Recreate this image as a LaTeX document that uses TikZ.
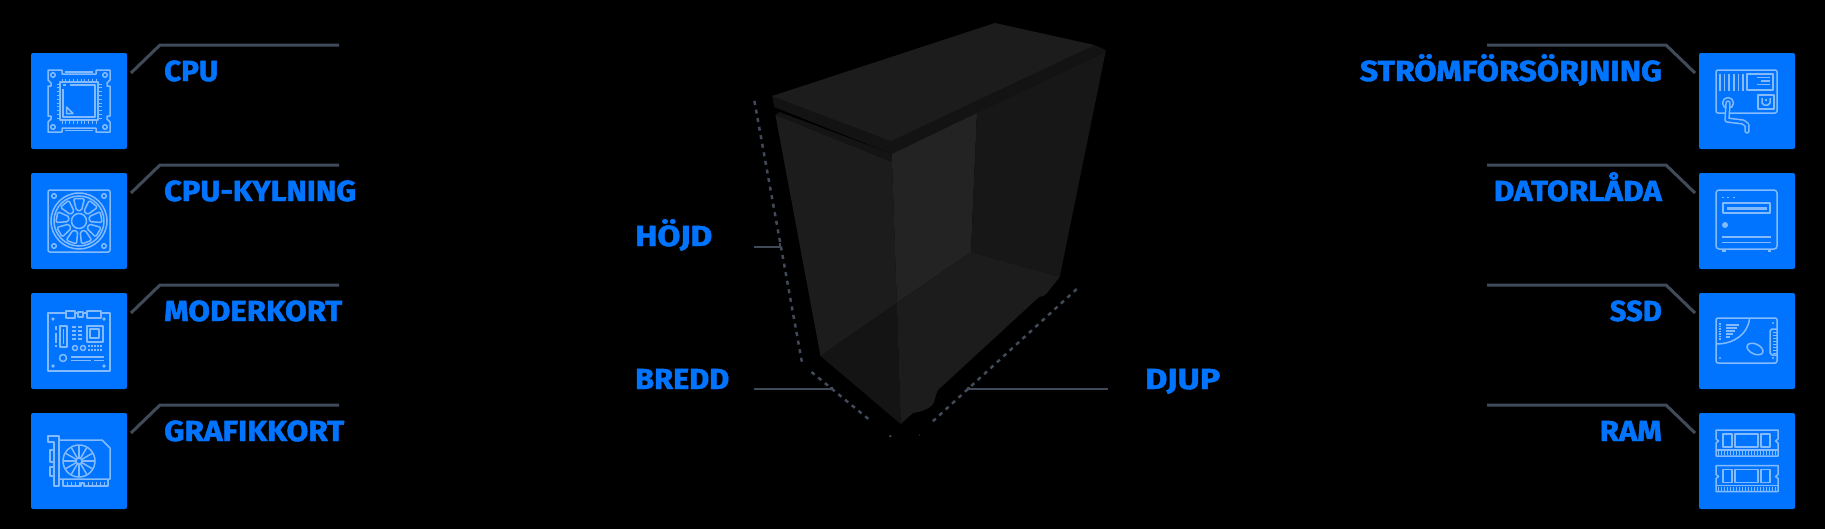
\documentclass[tikz,border=0pt]{standalone}
\usepackage{fontspec}
\usepackage{graphicx}
\setmainfont{Fira Sans}[BoldFeatures={FakeBold=1.6}]
\definecolor{brand}{HTML}{0074FF}
\definecolor{iconline}{HTML}{84BBFF}
\definecolor{lead}{HTML}{414A58}
\definecolor{caseA}{HTML}{1C1C1C}
\definecolor{caseB}{HTML}{131313}
\definecolor{caseC}{HTML}{232323}
\definecolor{caseD}{HTML}{171717}
\definecolor{caseE}{HTML}{141414}
\newcommand\fitlabel[2]{\resizebox{#1pt}{\height}{#2}}
\tikzset{
  tile/.style={fill=brand,rounded corners=2pt,minimum size=96pt,inner sep=0pt,draw=none},
  name label/.style={text=brand,inner sep=0pt,font=\fontsize{29}{29}\selectfont\bfseries},
  leader/.style={draw=lead,line width=3pt},
  dim/.style={draw=lead,line width=2.5pt,dash pattern=on 4pt off 4.7pt},
  ico/.style={draw=iconline,line width=1.5pt,line join=round},
}
\begin{document}
\begin{tikzpicture}[x=1pt,y=-1pt]
\useasboundingbox (0,0) rectangle (1825,528);
\fill[black] (-5,-5) rectangle (1830,540);
\begin{scope}
% tiles
\node[tile] (cpu) at (79,101) {};
\node[tile] (cool) at (79,221) {};
\node[tile] (mobo) at (79,341) {};
\node[tile] (gpu) at (79,461) {};
\node[tile] (psu) at (1747,101) {};
\node[tile] (chassis) at (1747,221) {};
\node[tile] (ssd) at (1747,341) {};
\node[tile] (ram) at (1747,461) {};

% leaders
\foreach \n/\r in {a/0,b/120,c/240,d/360}{
  \coordinate (l\n1) at (131,73+\r);
  \coordinate (l\n2) at (160,45+\r);
  \coordinate (l\n3) at (339,45+\r);
  \draw[leader] (l\n1) -- (l\n2) -- (l\n3);
  \coordinate (r\n1) at (1695,73+\r);
  \coordinate (r\n2) at (1666,45+\r);
  \coordinate (r\n3) at (1487,45+\r);
  \draw[leader] (r\n1) -- (r\n2) -- (r\n3);
}

% labels
\node[name label,anchor=base west] (tcpu) at (164,81) {\fitlabel{54}{CPU}};
\node[name label,anchor=base west] (tcool) at (164,201) {\fitlabel{192}{CPU-KYLNING}};
\node[name label,anchor=base west] (tmobo) at (164,321) {\fitlabel{178}{MODERKORT}};
\node[name label,anchor=base west] (tgpu) at (164,441) {\fitlabel{180}{GRAFIKKORT}};
\node[name label,anchor=base east] (tpsu) at (1662,81) {\fitlabel{302}{STRÖMFÖRSÖRJNING}};
\node[name label,anchor=base east] (tchassis) at (1662,201) {\fitlabel{168}{DATORLÅDA}};
\node[name label,anchor=base east] (tssd) at (1662,321) {\fitlabel{52}{SSD}};
\node[name label,anchor=base east] (tram) at (1662,441) {\fitlabel{62}{RAM}};
\node[name label,anchor=base west] (thoejd) at (635,246) {\fitlabel{77}{HÖJD}};
\node[name label,anchor=base west] (tbredd) at (635,389) {\fitlabel{94}{BREDD}};
\node[name label,anchor=base west] (tdjup) at (1145,389) {\fitlabel{75}{DJUP}};

% case
\fill[caseB] (772.2,96) -- (774.2,107) -- (892,154) -- (1105.6,52) -- (1105.6,50) -- (1094.5,45) -- cycle;
\fill[caseE] (775.4,115) -- (779.4,112) -- (892,154) -- (892,162) -- cycle;
\fill[caseA] (772.2,96) -- (994.9,23) -- (1094.5,45) -- (890.9,141) -- cycle;
\fill[caseA] (775.4,115) -- (892,162) -- (896.8,303) -- (820.5,356) -- cycle;
\fill[caseC] (892,154) -- (977,113) -- (971,252) -- (896.8,303) -- (892,162) -- cycle;
\fill[caseD] (977,113) -- (1105.6,52) -- (1059.7,277) -- (971,252) -- cycle;
\fill[caseE] (820.5,356) -- (896.8,303) -- (900.7,424) -- cycle;
\fill[caseA] (896.8,303) -- (971,252) -- (1059.7,277) -- (1047,293) .. controls (1044,296) .. (1039,297)
  -- (938,390) .. controls (935,395) and (935.5,400) .. (933,404)
  .. controls (928,410) and (920,412) .. (913,413) -- (900.7,424) -- cycle;

% dimension lines
\coordinate (hA) at (754.4,101); \coordinate (hB) at (801.9,362);
\coordinate (bA) at (811.5,372); \coordinate (bB) at (871.7,421.7);
\coordinate (bC) at (889.5,437); \coordinate (bD) at (891,435.5);
\coordinate (dA) at (1076.7,289); \coordinate (dB) at (931.7,422.3);
\coordinate (dC) at (919,435.5); \coordinate (dD) at (920,434.5);
\draw[dim] (hA) -- (hB);
\draw[dim] (bA) -- (bB);
\draw[dim] (dA) -- (dB);
\draw[draw=lead,line width=1.5pt] (bC) -- (bD);
\draw[draw=lead!60!black,line width=1pt] (dC) -- (dD);
\coordinate (hL) at (754.4,247); \coordinate (hM) at (780,247); \coordinate (hT) at (780,243);
\coordinate (wL) at (753.5,389); \coordinate (wM) at (831.5,389); \coordinate (wT) at (831.5,386.5);
\coordinate (jL) at (1107.7,389); \coordinate (jM) at (968.3,389); \coordinate (jT) at (968.3,386.5);
\draw[leader,line width=2.5pt] (hL) -- (hM) -- (hT);
\draw[leader,line width=2.5pt] (wL) -- (wM) -- (wT);
\draw[leader,line width=2.5pt] (jL) -- (jM) -- (jT);
\end{scope}

% ---- CPU icon
\begin{scope}[shift={(31,53)}]
  \draw[ico] (17,17) -- (31,17) -- (31,21) -- (65,21) -- (65,17) -- (79,17) -- (79,27) -- (76,30) -- (76,33) -- (79,33)
    -- (79,63) -- (76,63) -- (76,66) -- (79,69) -- (79,79) -- (65,79) -- (65,75) -- (31,75) -- (31,79) -- (17,79)
    -- (17,69) -- (20,66) -- (20,63) -- (17,63) -- (17,33) -- (20,33) -- (20,30) -- (17,27) -- cycle;
  \fill[iconline] (34,18) rectangle (62,19.5);
  \fill[iconline] (34,76.5) rectangle (62,78);
  \draw[ico] (29,29) rectangle (67,67);
  \draw[ico] (32,32) -- (35,32) (39,32) -- (64,32) -- (64,64) -- (32,64) -- (32,36);
  \foreach \k in {0,...,9}{
    \draw[ico,line width=1pt] (31+\k*3.8,25.5) -- (31+\k*3.8,29);
    \draw[ico,line width=1pt] (31+\k*3.8,67) -- (31+\k*3.8,70.5);
    \draw[ico,line width=1pt] (25.5,31+\k*3.8) -- (29,31+\k*3.8);
    \draw[ico,line width=1pt] (67,31+\k*3.8) -- (70.5,31+\k*3.8);
  }
  \draw[ico] (35.5,54) -- (42,60.5) -- (35.5,60.5) -- cycle;
  \foreach \x/\y in {22/22,74/22,22/74,74/74} \draw[ico] (\x,\y) circle [radius=2.3];
\end{scope}

% ---- fan icon
\begin{scope}[shift={(31,173)}]
  \draw[ico,rounded corners=2pt] (17,17) rectangle (79,79);
  \foreach \x/\y in {23/23,73/23,23/73,73/73} \draw[ico] (\x,\y) circle [radius=2.3];
  \draw[ico] (48,48) circle [radius=28];
  \draw[ico] (48,48) circle [radius=25];
  \draw[ico] (48,48) circle [radius=7.5];
  \foreach \a in {0,40,...,320}{
    \draw[ico,rounded corners=1.5pt,rotate around={\a:(48,48)}] (45.5,37.5) -- (42.5,25.5) -- (53.5,25.5) -- (50.5,37.5) -- cycle;
  }
\end{scope}

% ---- motherboard icon
\begin{scope}[shift={(31,293)}]
  \draw[ico] (17,20) rectangle (79,78);
  \draw[ico,fill=brand] (35,18) rectangle (44,25);
  \draw[ico,fill=brand] (47,19) rectangle (52,24);
  \draw[ico,fill=brand] (56,18) rectangle (70,25);
  \foreach \x/\y in {22/26,73/26,22/73,73/73} \fill[iconline] (\x,\y) circle [radius=1.8];
  \draw[ico] (29,33) rectangle (36,54);
  \draw[ico] (32.5,36) -- (32.5,51);
  \draw[ico] (25,33) -- (25,37) (25,40) -- (25,50) (25,52) -- (25,54);
  \foreach \y in {34,38,42,46}{ \draw[ico] (41,\y) -- (45,\y) (47,\y) -- (51,\y); }
  \draw[ico] (56,33) rectangle (72,49);
  \draw[ico] (59,36) rectangle (68,45);
  \draw[ico] (44,55) circle [radius=2.5];
  \draw[ico] (52,55) circle [radius=2.5];
  \foreach \y in {53,57}{ \foreach \x in {58,61,64,67,70}{ \fill[iconline] (\x-.8,\y-.8) rectangle (\x+.8,\y+.8); } }
  \draw[ico] (32,65) circle [radius=3.5];
  \draw[ico] (40,64) -- (73,64) (40,67.5) -- (60,67.5) (63,67.5) -- (73,67.5);
\end{scope}

% ---- graphics card icon
\begin{scope}[shift={(31,413)}]
  \draw[ico] (17,23) -- (28,23) -- (28,73) -- (23,73) -- (23,29) -- (17,29) -- cycle;
  \draw[ico] (23,37) -- (19,37) -- (19,49) -- (23,49);
  \draw[ico] (23,54) -- (19,54) -- (19,63) -- (23,63);
  \draw[ico] (28,27) -- (71,27) -- (79,35) -- (79,66) -- (28,66);
  \draw[ico] (32,66) -- (32,73) -- (50,73) -- (50,70) -- (53,70) -- (53,73) -- (77,73) -- (77,66);
  \foreach \x in {36,40,...,48} \draw[ico,line width=.9pt] (\x,69) -- (\x,73);
  \foreach \x in {57,61,...,73} \draw[ico,line width=.9pt] (\x,69) -- (\x,73);
  \draw[ico,fill=brand] (48,48) circle [radius=16];
  \foreach \a in {0,30,...,330}{
    \draw[ico,rotate around={\a:(48,48)}] (48,45) -- (48,32);
  }
  \draw[ico,fill=brand] (48,48) circle [radius=3];
\end{scope}

% ---- power supply icon
\begin{scope}[shift={(1699,53)}]
  \draw[ico,rounded corners=2pt] (17,17) rectangle (78,60);
  \foreach \x in {21,25.6,30.2,34.8,39.4,44} \draw[ico] (\x,21) -- (\x,38);
  \draw[ico] (48,21) rectangle (74,37);
  \draw[ico] (58,24.5) -- (71,24.5) (62,28) -- (71,28) (58,31.5) -- (71,31.5);
  \draw[ico] (59,42) rectangle (75,56);
  \draw[ico] (63,45) -- (63,50) -- (65,52) -- (69,52) -- (71,50) -- (71,45);
  \draw[ico] (67,46) -- (67,48);
  \draw[ico,fill=brand] (29,50) circle [radius=5.5];
  \draw[iconline,line width=5.4pt,line cap=round,line join=round] (29,50) -- (28,67) -- (44,69) -- (48,72) -- (48,78);
  \draw[brand,line width=2.4pt,line cap=round,line join=round] (29,50) -- (28,67) -- (44,69) -- (48,72) -- (48,78);
\end{scope}

% ---- chassis icon
\begin{scope}[shift={(1699,173)}]
  \draw[ico,rounded corners=3pt] (17,76) -- (17,17) -- (78,17) -- (78,76) -- cycle;
  \fill[iconline] (23,76) rectangle (26.5,79);
  \fill[iconline] (68.5,76) rectangle (72,79);
  \foreach \x in {24,29,35} \fill[iconline] (\x-1,23.5) rectangle (\x+1,24.5);
  \draw[ico] (24,30) rectangle (71,40);
  \fill[iconline] (28,33.5) rectangle (68,37);
  \fill[iconline] (26,52) circle [radius=3];
  \draw[ico] (23,64) -- (72,64) (23,69.5) -- (72,69.5);
\end{scope}

% ---- SSD icon
\begin{scope}[shift={(1699,293)}]
  \draw[ico,rounded corners=2pt] (17,25) rectangle (78,70);
  \draw[ico] (50.5,25.5) .. controls (49,41) and (35,51) .. (17,51);
  \foreach \y in {31,33.5,...,47} \fill[iconline] (20,\y-.6) rectangle (22,\y+.6);
  \draw[ico] (27,32) -- (40,32) (27,35) -- (38,35) (27,38) -- (36,38) (27,41) -- (34,41) (27,44) -- (31,44);
  \draw[ico,rotate around={-25:(56,56)}] (56,56) ellipse [x radius=8.5,y radius=5];
  \foreach \x/\y in {74/30,21/65,74/65} \fill[iconline] (\x,\y) circle [radius=1.1];
  \draw[ico] (78,36) -- (73,36) -- (71,38) -- (71,60) -- (73,62) -- (78,62);
  \foreach \y in {39,42,...,60} \draw[ico,line width=.9pt] (74,\y) -- (78,\y);
\end{scope}

% ---- RAM icon
\begin{scope}[shift={(1699,413)}]
  \foreach \d in {0,35.5}{
    \begin{scope}[yshift=-\d pt]
      \draw[ico] (17,17) -- (79,17) -- (79,26) -- (76.5,28) -- (79,30) -- (79,43) -- (17,43) -- (17,30) -- (19.5,28) -- (17,26) -- cycle;
      \draw[ico] (24,21) rectangle (33,34);
      \draw[ico] (36,21) rectangle (59,34);
      \draw[ico] (62,21) rectangle (71,34);
      \draw[ico] (17,37) -- (79,37);
      \foreach \k in {0,...,19} \draw[ico,line width=1pt] (19.5+\k*3,38) -- (19.5+\k*3,42);
    \end{scope}
  }
\end{scope}
\end{tikzpicture}
\end{document}
